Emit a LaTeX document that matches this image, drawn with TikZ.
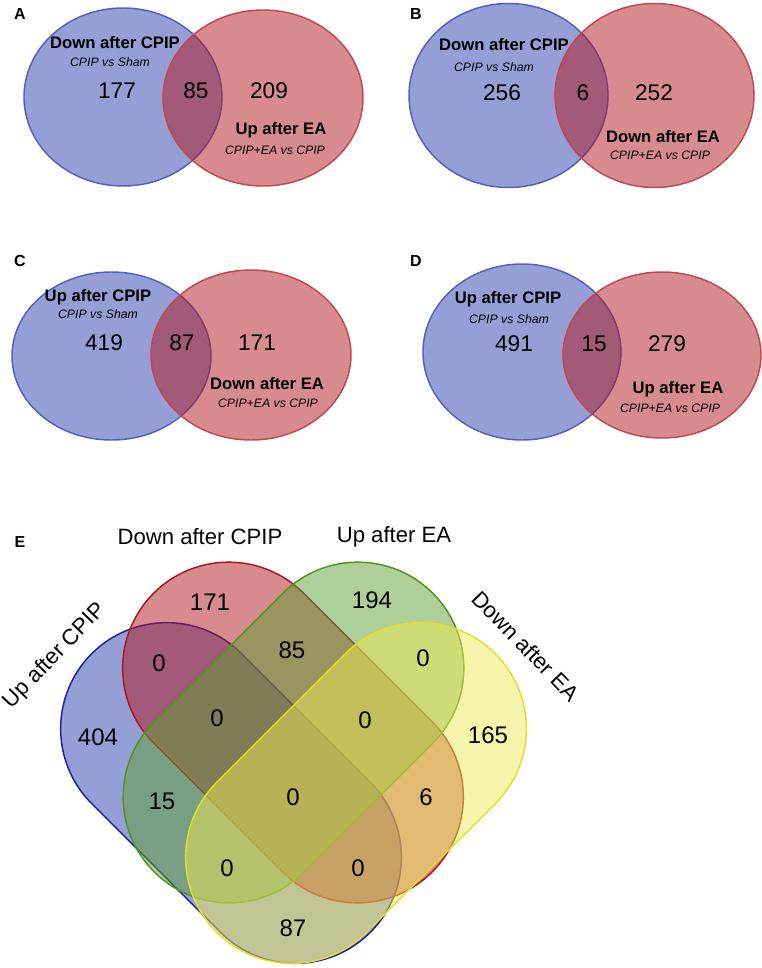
\documentclass[tikz,border=0pt]{standalone}
\usepackage{fontspec}
\setmainfont{Liberation Sans}
\usetikzlibrary{shapes.geometric,shapes.misc}

\definecolor{vblue}{HTML}{2B3FAD}
\definecolor{vred}{HTML}{B2171E}
\definecolor{vgreen}{HTML}{5D9F33}
\definecolor{vyellow}{HTML}{EDE955}
\definecolor{lblue}{HTML}{5060C4}
\definecolor{lred}{HTML}{C4464F}
\definecolor{eblue}{HTML}{1A22A0}
\definecolor{ered}{HTML}{B0141E}
\definecolor{egreen}{HTML}{4E961A}
\definecolor{eyellow}{HTML}{E6DE26}

\begin{document}
\begin{tikzpicture}[
    x=0.75pt, y=-0.75pt,
    venn/.style 2 args={ellipse, draw, line width=1.1pt, inner sep=0pt, fill opacity=0.5,
        minimum width=#1*0.75pt, minimum height=#2*0.75pt},
    lobe/.style={rounded rectangle, draw, line width=1.1pt, inner sep=0pt, fill opacity=0.5,
        minimum width=295.5pt, minimum height=159pt},
    panel/.style={font=\bfseries\fontsize{12}{14}\selectfont},
    setname/.style={font=\bfseries\fontsize{12.5}{15}\selectfont},
    contrast/.style={font=\itshape\fontsize{9.2}{11}\selectfont},
    num/.style={font=\fontsize{17}{20}\selectfont},
    bignum/.style={font=\fontsize{18}{21}\selectfont},
    vlabel/.style={font=\fontsize{16.6}{20}\selectfont}
]
\useasboundingbox (0,0) rectangle (762,968);

% Panel A
\node[panel] (pA) at (20,14) {A};
\node[venn={198}{178}, draw=lblue, fill=vblue] (A1) at (123,97) {};
\node[venn={200}{176}, draw=lred, fill=vred] (A2) at (263,98) {};
\node[setname] (A1name) at (115,43) {Down after CPIP};
\node[contrast] (A1cmp) at (110,62) {CPIP vs Sham};
\node[num] (A1n) at (117,91) {177};
\node[num] (A12n) at (196,91) {85};
\node[num] (A2n) at (269,91) {209};
\node[setname] (A2name) at (281,130) {Up after EA};
\node[contrast] (A2cmp) at (275,150) {CPIP+EA vs CPIP};

% Panel B
\node[panel] (pB) at (416,14) {B};
\node[venn={199}{184}, draw=lblue, fill=vblue] (B1) at (508.5,95.5) {};
\node[venn={199}{184}, draw=lred, fill=vred] (B2) at (654.5,95.5) {};
\node[setname] (B1name) at (504,45) {Down after CPIP};
\node[contrast] (B1cmp) at (494,67) {CPIP vs Sham};
\node[num] (B1n) at (502,93) {256};
\node[num] (B12n) at (583,93) {6};
\node[num] (B2n) at (654,93) {252};
\node[setname] (B2name) at (663,137) {Down after EA};
\node[contrast] (B2cmp) at (660,155) {CPIP+EA vs CPIP};

% Panel C
\node[panel] (pC) at (20,261) {C};
\node[venn={199}{168}, draw=lblue, fill=vblue] (C1) at (111.5,356) {};
\node[venn={200}{170}, draw=lred, fill=vred] (C2) at (251,355) {};
\node[setname] (C1name) at (98,297) {Up after CPIP};
\node[contrast] (C1cmp) at (98,314) {CPIP vs Sham};
\node[num] (C1n) at (104,343) {419};
\node[num] (C12n) at (182,343) {87};
\node[num] (C2n) at (257,343) {171};
\node[setname] (C2name) at (267,384) {Down after EA};
\node[contrast] (C2cmp) at (268,403) {CPIP+EA vs CPIP};

% Panel D
\node[panel] (pD) at (416,261) {D};
\node[venn={198}{176}, draw=lblue, fill=vblue] (D1) at (522,352) {};
\node[venn={198}{166}, draw=lred, fill=vred] (D2) at (662,355) {};
\node[setname] (D1name) at (508,299) {Up after CPIP};
\node[contrast] (D1cmp) at (509,319) {CPIP vs Sham};
\node[num] (D1n) at (514,344) {491};
\node[num] (D12n) at (594,344) {15};
\node[num] (D2n) at (667,344) {279};
\node[setname] (D2name) at (678,389) {Up after EA};
\node[contrast] (D2cmp) at (670,408) {CPIP+EA vs CPIP};

% Panel E: four sets
\node[panel] (pE) at (20,542) {E};
\node[lobe, rotate=-45, draw=eblue, fill=vblue] (E1) at (231,793) {};
\node[lobe, rotate=-45, draw=ered, fill=vred] (E2) at (293,732.5) {};
\node[lobe, rotate=45, draw=egreen, fill=vgreen] (E3) at (293.5,732.5) {};
\node[lobe, rotate=45, draw=eyellow, fill=vyellow] (E4) at (356,793) {};

\node[vlabel, rotate=46] (E1name) at (55,656) {Up after CPIP};
\node[vlabel] (E2name) at (200,537) {Down after CPIP};
\node[vlabel] (E3name) at (394,537) {Up after EA};
\node[vlabel, rotate=-46] (E4name) at (526,646) {Down after EA};

\node[bignum] (n2) at (210,602) {171};
\node[bignum] (n3) at (372,600) {194};
\node[bignum] (n12) at (159,663) {0};
\node[bignum] (n23) at (292,650) {85};
\node[bignum] (n34) at (423,658) {0};
\node[bignum] (n1) at (98,737) {404};
\node[bignum] (n4) at (488,735) {165};
\node[bignum] (n123) at (217,718) {0};
\node[bignum] (n234) at (365,720) {0};
\node[bignum] (n1234) at (293,797) {0};
\node[bignum] (n13) at (162,801) {15};
\node[bignum] (n24) at (426,797) {6};
\node[bignum] (n134) at (227,868) {0};
\node[bignum] (n124) at (358,868) {0};
\node[bignum] (n14) at (293,928) {87};
\end{tikzpicture}
\end{document}
